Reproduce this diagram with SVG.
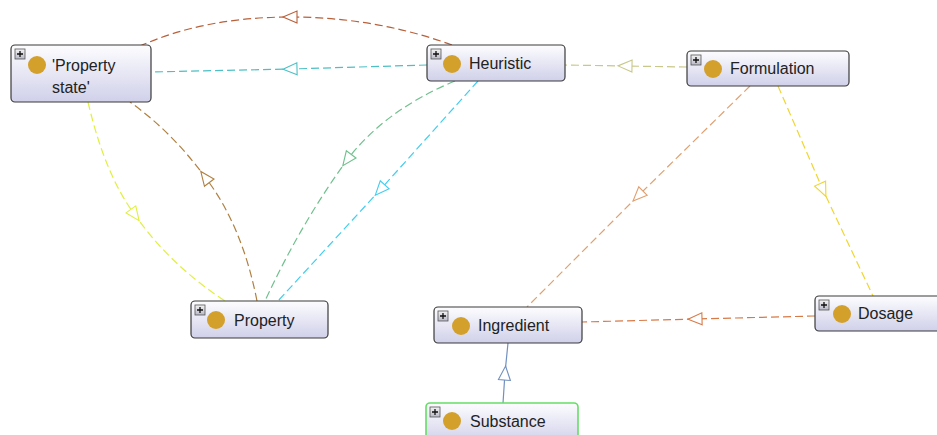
<svg xmlns="http://www.w3.org/2000/svg" width="937" height="435" viewBox="0 0 937 435">
<style>
.box{fill:url(#g);stroke:#3a3a3a;stroke-width:1.2}
.sel{fill:url(#g);stroke:#66dd66;stroke-width:1.6}
.pl{fill:url(#pg);stroke:#555;stroke-width:0.8}
.plx{stroke:#111;stroke-width:1.3}
.dot{fill:#d4a02c}
.t{font-family:"Liberation Sans",Arial,sans-serif;font-size:16px;fill:#222}
.e{fill:none;stroke-width:1.2;stroke-dasharray:8 4}
.mk{fill:#fff;stroke-width:1.1}
</style>
<defs>
<linearGradient id="g" x1="0" y1="0" x2="0" y2="1"><stop offset="0" stop-color="#fdfdff"/><stop offset="1" stop-color="#d0d0ea"/></linearGradient>
<linearGradient id="pg" x1="0" y1="0" x2="0" y2="1"><stop offset="0" stop-color="#f4f4f4"/><stop offset="1" stop-color="#b8b8c8"/></linearGradient>
<marker id="m1" markerUnits="userSpaceOnUse" markerWidth="16" markerHeight="14" refX="7" refY="6" orient="auto" overflow="visible"><path class="mk" stroke="#b8603a" d="M0,0 L14,6 L0,12 z"/></marker>
<marker id="m2" markerUnits="userSpaceOnUse" markerWidth="16" markerHeight="14" refX="7" refY="6" orient="auto" overflow="visible"><path class="mk" stroke="#4cc0c4" d="M0,0 L14,6 L0,12 z"/></marker>
<marker id="m3" markerUnits="userSpaceOnUse" markerWidth="16" markerHeight="14" refX="7" refY="6" orient="auto" overflow="visible"><path class="mk" stroke="#c8c88a" d="M0,0 L14,6 L0,12 z"/></marker>
<marker id="m4" markerUnits="userSpaceOnUse" markerWidth="16" markerHeight="14" refX="7" refY="6" orient="auto" overflow="visible"><path class="mk" stroke="#e0f040" d="M0,0 L14,6 L0,12 z"/></marker>
<marker id="m5" markerUnits="userSpaceOnUse" markerWidth="16" markerHeight="14" refX="7" refY="6" orient="auto" overflow="visible"><path class="mk" stroke="#b08040" d="M0,0 L14,6 L0,12 z"/></marker>
<marker id="m6" markerUnits="userSpaceOnUse" markerWidth="16" markerHeight="14" refX="7" refY="6" orient="auto" overflow="visible"><path class="mk" stroke="#70c08e" d="M0,0 L14,6 L0,12 z"/></marker>
<marker id="m7" markerUnits="userSpaceOnUse" markerWidth="16" markerHeight="14" refX="7" refY="6" orient="auto" overflow="visible"><path class="mk" stroke="#40cef0" d="M0,0 L14,6 L0,12 z"/></marker>
<marker id="m8" markerUnits="userSpaceOnUse" markerWidth="16" markerHeight="14" refX="7" refY="6" orient="auto" overflow="visible"><path class="mk" stroke="#e0a070" d="M0,0 L14,6 L0,12 z"/></marker>
<marker id="m9" markerUnits="userSpaceOnUse" markerWidth="16" markerHeight="14" refX="7" refY="6" orient="auto" overflow="visible"><path class="mk" stroke="#f0d630" d="M0,0 L14,6 L0,12 z"/></marker>
<marker id="m10" markerUnits="userSpaceOnUse" markerWidth="16" markerHeight="14" refX="7" refY="6" orient="auto" overflow="visible"><path class="mk" stroke="#d87a48" d="M0,0 L14,6 L0,12 z"/></marker>
<marker id="m11" markerUnits="userSpaceOnUse" markerWidth="16" markerHeight="14" refX="7" refY="6" orient="auto" overflow="visible"><path class="mk" stroke="#7090c0" d="M0,0 L14,6 L0,12 z"/></marker>
</defs>
<rect width="937" height="435" fill="#fff"/>
<g id="connectors">
<path class="e" stroke="#b8603a" marker-mid="url(#m1)" d="M452,45 Q375,17 290,17 Q205,17 140,46"/>
<path class="e" stroke="#4cc0c4" marker-mid="url(#m2)" d="M427,65 L290,69 L151,72"/>
<path class="e" stroke="#c8c88a" marker-mid="url(#m3)" d="M687,67 L625,66 L565,65"/>
<path class="e" stroke="#e0f040" marker-mid="url(#m4)" d="M88,102 Q105,175 135,215 Q170,265 225,301"/>
<path class="e" stroke="#b08040" marker-mid="url(#m5)" d="M257,301 Q242,225 205,177 Q172,132 130,102"/>
<path class="e" stroke="#70c08e" marker-mid="url(#m6)" d="M455,81 Q385,110 347,160 Q300,225 265,301"/>
<path class="e" stroke="#40cef0" marker-mid="url(#m7)" d="M478,81 L380,190 L278,301"/>
<path class="e" stroke="#e0a070" marker-mid="url(#m8)" d="M750,86 L638,196 L527,307"/>
<path class="e" stroke="#f0d630" marker-mid="url(#m9)" d="M778,86 L823,190 L873,296"/>
<path class="e" stroke="#d87a48" marker-mid="url(#m10)" d="M815,316 L695,319 L582,322"/>
<path fill="none" stroke="#7090c0" stroke-width="1.2" marker-mid="url(#m11)" d="M503,403 L505,373 L508,343"/>
</g>
<g id="node-property-state">
<rect class="box" x="11" y="45" width="140" height="57" rx="4"/>
<rect class="pl" x="15" y="49" width="10" height="10"/><path class="plx" d="M17,54 H23 M20,51 V57"/>
<circle class="dot" cx="37" cy="65" r="9"/>
<text class="t" x="52" y="71">'Property</text>
<text class="t" x="52" y="93">state'</text>
</g>
<g id="node-heuristic">
<rect class="box" x="427" y="45" width="138" height="36" rx="4"/>
<rect class="pl" x="431" y="49" width="10" height="10"/><path class="plx" d="M433,54 H439 M436,51 V57"/>
<circle class="dot" cx="452" cy="64" r="9"/>
<text class="t" x="469" y="69">Heuristic</text>
</g>
<g id="node-formulation">
<rect class="box" x="687" y="51" width="162" height="35" rx="4"/>
<rect class="pl" x="691" y="55" width="10" height="10"/><path class="plx" d="M693,60 H699 M696,57 V63"/>
<circle class="dot" cx="713" cy="69" r="9"/>
<text class="t" x="730" y="74">Formulation</text>
</g>
<g id="node-property">
<rect class="box" x="191" y="301" width="137" height="37" rx="4"/>
<rect class="pl" x="195" y="305" width="10" height="10"/><path class="plx" d="M197,310 H203 M200,307 V313"/>
<circle class="dot" cx="216" cy="320" r="9"/>
<text class="t" x="234" y="326">Property</text>
</g>
<g id="node-ingredient">
<rect class="box" x="434" y="307" width="148" height="36" rx="4"/>
<rect class="pl" x="438" y="311" width="10" height="10"/><path class="plx" d="M440,316 H446 M443,313 V319"/>
<circle class="dot" cx="461" cy="326" r="9"/>
<text class="t" x="478" y="331">Ingredient</text>
</g>
<g id="node-dosage">
<rect class="box" x="815" y="296" width="126" height="35" rx="4"/>
<rect class="pl" x="819" y="300" width="10" height="10"/><path class="plx" d="M821,305 H827 M824,302 V308"/>
<circle class="dot" cx="842" cy="314" r="9"/>
<text class="t" x="858" y="319">Dosage</text>
</g>
<g id="node-substance">
<rect class="sel" x="426" y="403" width="152" height="40" rx="4"/>
<rect class="pl" x="430" y="407" width="10" height="10"/><path class="plx" d="M432,412 H438 M435,409 V415"/>
<circle class="dot" cx="452" cy="421" r="9"/>
<text class="t" x="470" y="427">Substance</text>
</g>
</svg>
